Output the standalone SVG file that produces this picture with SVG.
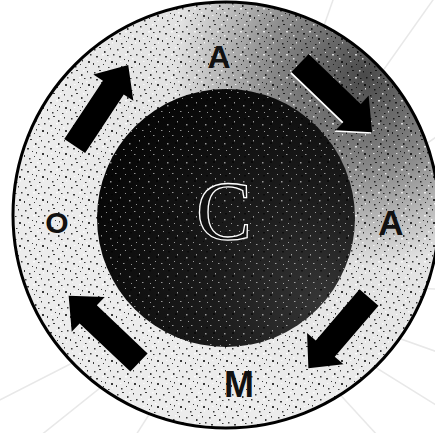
<svg xmlns="http://www.w3.org/2000/svg" width="435" height="433" viewBox="0 0 435 433">
  <style>
    .lbl { font-family: "Liberation Sans", Arial, sans-serif; font-weight: bold; fill: #111; text-anchor: middle; }
    .ray { stroke: #e8e8e8; stroke-width: 1.5; fill: none; }
    .arr { fill: #000; }
  </style>
  <defs>
    <radialGradient id="ringGrad" gradientUnits="userSpaceOnUse" cx="365" cy="75" r="320">
      <stop offset="0" stop-color="#4a4a4a"/>
      <stop offset="0.3" stop-color="#8a8a8a"/>
      <stop offset="0.6" stop-color="#e2e2e2"/>
      <stop offset="1" stop-color="#ececec"/>
    </radialGradient>
    <radialGradient id="coreGrad" gradientUnits="userSpaceOnUse" cx="320" cy="300" r="260">
      <stop offset="0" stop-color="#353535"/>
      <stop offset="0.4" stop-color="#1c1c1c"/>
      <stop offset="1" stop-color="#050505"/>
    </radialGradient>
    <pattern id="speckB" width="23" height="23" patternUnits="userSpaceOnUse">
      <rect x="2" y="3" width="1.5" height="1.5" fill="#000"/>
      <rect x="7" y="1" width="2" height="1" fill="#000"/>
      <rect x="12" y="5" width="1.5" height="2" fill="#000"/>
      <rect x="18" y="2" width="1" height="1.5" fill="#000"/>
      <rect x="21" y="8" width="1.5" height="1.5" fill="#000"/>
      <rect x="4" y="10" width="2" height="1.5" fill="#000"/>
      <rect x="9" y="13" width="1" height="1" fill="#000"/>
      <rect x="15" y="9" width="1.5" height="1" fill="#000"/>
      <rect x="19" y="15" width="2" height="2" fill="#000"/>
      <rect x="1" y="17" width="1" height="2" fill="#000"/>
      <rect x="6" y="20" width="1.5" height="1.5" fill="#000"/>
      <rect x="11" y="18" width="1" height="1" fill="#000"/>
      <rect x="16" y="21" width="1.5" height="1" fill="#000"/>
      <rect x="13" y="14" width="1" height="1.5" fill="#000"/>
      <rect x="3" y="6" width="1" height="1" fill="#fff"/>
      <rect x="10" y="8" width="2" height="1.5" fill="#fff"/>
      <rect x="17" y="12" width="1.5" height="1.5" fill="#fff"/>
      <rect x="5" y="15" width="1.5" height="1" fill="#fff"/>
      <rect x="20" y="19" width="1" height="1.5" fill="#fff"/>
      <rect x="14" y="1" width="1.5" height="1.5" fill="#fff"/>
    </pattern>
    <pattern id="speckW" width="19" height="19" patternUnits="userSpaceOnUse">
      <rect x="1" y="2" width="1.5" height="1" fill="#fff"/>
      <rect x="6" y="7" width="1" height="1.5" fill="#fff"/>
      <rect x="11" y="3" width="1" height="1" fill="#fff"/>
      <rect x="15" y="10" width="1.5" height="1.5" fill="#fff"/>
      <rect x="3" y="14" width="1" height="1" fill="#fff"/>
      <rect x="9" y="16" width="1.5" height="1" fill="#fff"/>
      <rect x="17" y="17" width="1" height="1" fill="#fff"/>
      <rect x="13" y="13" width="1" height="1" fill="#000"/>
      <rect x="4" y="9" width="2" height="2" fill="#000"/>
      <rect x="16" y="4" width="2" height="1.5" fill="#000"/>
    </pattern>
    <polygon id="arrow" points="0,-12.5 70,-12.5 70,-24 97,0 70,24 70,12.5 0,12.5"/>
  </defs>

  <rect width="435" height="433" fill="#fff"/>

  <g id="background">
    <line class="ray" x1="235" y1="280" x2="-20" y2="410"/>
    <line class="ray" x1="235" y1="280" x2="10" y2="460"/>
    <line class="ray" x1="235" y1="280" x2="120" y2="460"/>
    <line class="ray" x1="235" y1="280" x2="460" y2="420"/>
    <line class="ray" x1="235" y1="280" x2="460" y2="360"/>
    <line class="ray" x1="235" y1="280" x2="400" y2="460"/>
    <line class="ray" x1="235" y1="280" x2="460" y2="290"/>
    <line class="ray" x1="235" y1="280" x2="460" y2="120"/>
    <line class="ray" x1="235" y1="280" x2="440" y2="-10"/>
    <line class="ray" x1="235" y1="280" x2="340" y2="-20"/>
  </g>

  <g id="ring">
    <circle cx="226" cy="215" r="213" fill="url(#ringGrad)"/>
    <circle cx="226" cy="215" r="213" fill="url(#speckB)" opacity="0.75"/>
    <circle cx="226" cy="215" r="213" fill="none" stroke="#000" stroke-width="3"/>
  </g>

  <g id="core">
    <circle cx="226" cy="218" r="129" fill="url(#coreGrad)"/>
    <circle cx="226" cy="218" r="129" fill="url(#speckW)" opacity="0.55"/>
  </g>

  <g id="connectors">
    <use href="#arrow" class="arr" transform="translate(74.7,146) rotate(-56.5)"/>
    <use href="#arrow" fill="#fff" transform="translate(299,64.5) rotate(43.8) scale(1.03,1)"/>
    <use href="#arrow" class="arr" transform="translate(300,63) rotate(43.8) scale(1.03,1)"/>
    <use href="#arrow" class="arr" transform="translate(369,297.5) rotate(130.6) scale(0.96,1)"/>
    <use href="#arrow" class="arr" transform="translate(139,362.5) rotate(-136.5)"/>
  </g>

  <g id="node-C">
    <text x="224" y="240" font-family="'Liberation Serif', 'Times New Roman', serif" font-size="84" text-anchor="middle" fill="#111" stroke="#fff" stroke-width="1.3">C</text>
  </g>
  <g id="node-A-top">
    <text class="lbl" x="219" y="68" font-size="32">A</text>
  </g>
  <g id="node-A-right">
    <text class="lbl" x="391" y="235" font-size="35">A</text>
  </g>
  <g id="node-M">
    <text class="lbl" x="239" y="397" font-size="36">M</text>
  </g>
  <g id="node-O">
    <text class="lbl" x="57" y="233" font-size="30">O</text>
  </g>
</svg>
